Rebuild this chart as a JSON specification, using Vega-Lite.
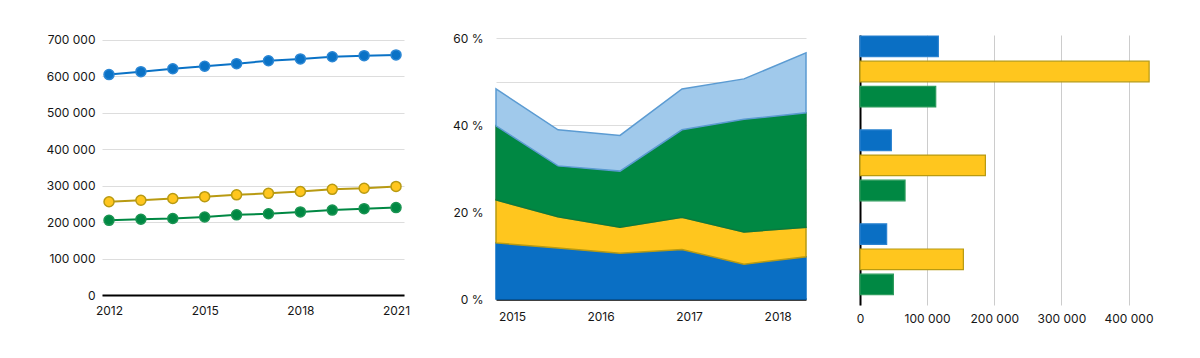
{
  "$schema": "https://vega.github.io/schema/vega-lite/v6.json",
  "background": "white",
  "padding": {"left": 46, "top": 32, "right": 10, "bottom": 5},
  "spacing": 42,
  "align": "none",
  "resolve": {"scale": {"fill": "independent", "stroke": "independent", "x": "independent", "y": "independent"}},
  "config": {
    "view": {"stroke": null},
    "font": "Inter",
    "axis": {"labelFont": "Inter", "labelFontSize": 12, "labelColor": "#161616", "ticks": false, "title": null},
    "locale": {"number": {"decimal": ",", "thousands": " ", "grouping": [3], "currency": ["", " €"]}}
  },
  "datasets": {
    "lines": [
      {"year": 2012, "series": "S1", "value": 605000},
      {"year": 2013, "series": "S1", "value": 613000},
      {"year": 2014, "series": "S1", "value": 621000},
      {"year": 2015, "series": "S1", "value": 628000},
      {"year": 2016, "series": "S1", "value": 635000},
      {"year": 2017, "series": "S1", "value": 643000},
      {"year": 2018, "series": "S1", "value": 648000},
      {"year": 2019, "series": "S1", "value": 654000},
      {"year": 2020, "series": "S1", "value": 657000},
      {"year": 2021, "series": "S1", "value": 659000},
      {"year": 2012, "series": "S2", "value": 256000},
      {"year": 2013, "series": "S2", "value": 260000},
      {"year": 2014, "series": "S2", "value": 265000},
      {"year": 2015, "series": "S2", "value": 270000},
      {"year": 2016, "series": "S2", "value": 275000},
      {"year": 2017, "series": "S2", "value": 279000},
      {"year": 2018, "series": "S2", "value": 284000},
      {"year": 2019, "series": "S2", "value": 290000},
      {"year": 2020, "series": "S2", "value": 293000},
      {"year": 2021, "series": "S2", "value": 298000},
      {"year": 2012, "series": "S3", "value": 205000},
      {"year": 2013, "series": "S3", "value": 208000},
      {"year": 2014, "series": "S3", "value": 210000},
      {"year": 2015, "series": "S3", "value": 214000},
      {"year": 2016, "series": "S3", "value": 220000},
      {"year": 2017, "series": "S3", "value": 223000},
      {"year": 2018, "series": "S3", "value": 228000},
      {"year": 2019, "series": "S3", "value": 233000},
      {"year": 2020, "series": "S3", "value": 237000},
      {"year": 2021, "series": "S3", "value": 240000}
    ],
    "areas": [
      {"t": 2014.82, "series": "S1", "share": 0.129},
      {"t": 2015.52, "series": "S1", "share": 0.117},
      {"t": 2016.22, "series": "S1", "share": 0.105},
      {"t": 2016.92, "series": "S1", "share": 0.114},
      {"t": 2017.62, "series": "S1", "share": 0.080},
      {"t": 2018.32, "series": "S1", "share": 0.097},
      {"t": 2014.82, "series": "S2", "share": 0.099},
      {"t": 2015.52, "series": "S2", "share": 0.072},
      {"t": 2016.22, "series": "S2", "share": 0.060},
      {"t": 2016.92, "series": "S2", "share": 0.074},
      {"t": 2017.62, "series": "S2", "share": 0.074},
      {"t": 2018.32, "series": "S2", "share": 0.068},
      {"t": 2014.82, "series": "S3", "share": 0.170},
      {"t": 2015.52, "series": "S3", "share": 0.117},
      {"t": 2016.22, "series": "S3", "share": 0.129},
      {"t": 2016.92, "series": "S3", "share": 0.201},
      {"t": 2017.62, "series": "S3", "share": 0.259},
      {"t": 2018.32, "series": "S3", "share": 0.263},
      {"t": 2014.82, "series": "S4", "share": 0.085},
      {"t": 2015.52, "series": "S4", "share": 0.083},
      {"t": 2016.22, "series": "S4", "share": 0.082},
      {"t": 2016.92, "series": "S4", "share": 0.094},
      {"t": 2017.62, "series": "S4", "share": 0.093},
      {"t": 2018.32, "series": "S4", "share": 0.138}
    ],
    "bars": [
      {"group": "G1", "series": "S1", "value": 116700},
      {"group": "G1", "series": "S2", "value": 430700},
      {"group": "G1", "series": "S3", "value": 112800},
      {"group": "G2", "series": "S1", "value": 46700},
      {"group": "G2", "series": "S2", "value": 186800},
      {"group": "G2", "series": "S3", "value": 67100},
      {"group": "G3", "series": "S1", "value": 39700},
      {"group": "G3", "series": "S2", "value": 154000},
      {"group": "G3", "series": "S3", "value": 49700}
    ]
  },
  "hconcat": [
    {
      "width": 302,
      "height": 260,
      "data": {"name": "lines"},
      "encoding": {
        "x": {"field": "year", "type": "quantitative", "scale": {"domain": [2011.78, 2021.25], "nice": false, "zero": false},
              "axis": {"values": [2012, 2015, 2018, 2021], "format": "d", "grid": false, "domainColor": "#000000", "domainWidth": 2, "labelPadding": 10, "labelFlush": false}},
        "y": {"field": "value", "type": "quantitative", "scale": {"domain": [0, 713700], "nice": false},
              "axis": {"values": [0, 100000, 200000, 300000, 400000, 500000, 600000, 700000], "format": ",d", "domain": false, "gridColor": "#dddddd", "labelPadding": 7}}
      },
      "layer": [
        {
          "mark": {"type": "line", "strokeWidth": 2},
          "encoding": {
            "stroke": {"field": "series", "type": "nominal", "legend": null,
                       "scale": {"domain": ["S1", "S2", "S3"], "range": ["#0a72c6", "#b89a12", "#008843"]}}
          }
        },
        {
          "mark": {"type": "point", "filled": true, "size": 100, "strokeWidth": 1.5, "opacity": 1},
          "encoding": {
            "fill": {"field": "series", "type": "nominal", "legend": null,
                     "scale": {"domain": ["S1", "S2", "S3"], "range": ["#0a72c6", "#ffc61e", "#008843"]}},
            "stroke": {"field": "series", "type": "nominal", "legend": null,
                       "scale": {"domain": ["S1", "S2", "S3"], "range": ["#2a86d4", "#b89a12", "#1a9452"]}}
          }
        }
      ],
      "resolve": {"scale": {"fill": "independent", "stroke": "independent"}}
    },
    {
      "width": 310,
      "height": 264,
      "data": {"name": "areas"},
      "mark": {"type": "area", "strokeWidth": 1.5, "opacity": 1},
      "encoding": {
        "x": {"field": "t", "type": "quantitative", "scale": {"domain": [2014.82, 2018.32], "nice": false, "zero": false},
              "axis": {"values": [2015, 2016, 2017, 2018], "format": "d", "grid": false, "domainColor": "#000000", "domainWidth": 2.5, "labelPadding": 12, "labelFlush": false}},
        "y": {"field": "share", "type": "quantitative", "stack": "zero", "scale": {"domain": [0, 0.6069], "nice": false},
              "axis": {"values": [0, 0.1, 0.2, 0.3, 0.4, 0.5, 0.6], "labelExpr": "round(datum.value * 100) % 20 == 0 ? round(datum.value * 100) + ' %' : ''", "domain": false, "gridColor": "#dddddd", "labelPadding": 13}},
        "fill": {"field": "series", "type": "nominal", "legend": null,
                 "scale": {"domain": ["S1", "S2", "S3", "S4"], "range": ["#0a6fc4", "#ffc61e", "#008843", "#a0c9eb"]}},
        "stroke": {"field": "series", "type": "nominal", "legend": null,
                   "scale": {"domain": ["S1", "S2", "S3", "S4"], "range": ["#0a6fc4", "#b89a12", "#0a7a3e", "#5b9bd2"]}},
        "order": {"field": "series", "type": "nominal", "sort": "ascending"}
      }
    },
    {
      "width": 290,
      "height": 270,
      "data": {"name": "bars"},
      "mark": {"type": "bar", "strokeWidth": 1.2},
      "encoding": {
        "y": {"field": "group", "type": "nominal", "scale": {"paddingInner": 0.245, "paddingOuter": 0.06, "align": 0.09},
              "axis": {"labels": false, "domainColor": "#000000", "domainWidth": 2, "grid": false, "ticks": true, "tickSize": 9, "tickOpacity": 0}},
        "yOffset": {"field": "series", "type": "nominal", "scale": {"domain": ["S1", "S2", "S3"], "paddingInner": 0.18, "paddingOuter": 0}},
        "x": {"field": "value", "type": "quantitative", "scale": {"domain": [0, 432000], "nice": false},
              "axis": {"values": [0, 100000, 200000, 300000, 400000], "format": ",d", "domain": false, "gridColor": "#cccccc", "labelPadding": 8, "labelFlush": false}},
        "fill": {"field": "series", "type": "nominal", "legend": null,
                 "scale": {"domain": ["S1", "S2", "S3"], "range": ["#0a6fc4", "#ffc61e", "#008843"]}},
        "stroke": {"field": "series", "type": "nominal", "legend": null,
                   "scale": {"domain": ["S1", "S2", "S3"], "range": ["#2a82d0", "#b89a12", "#2a9a5a"]}}
      }
    }
  ]
}
